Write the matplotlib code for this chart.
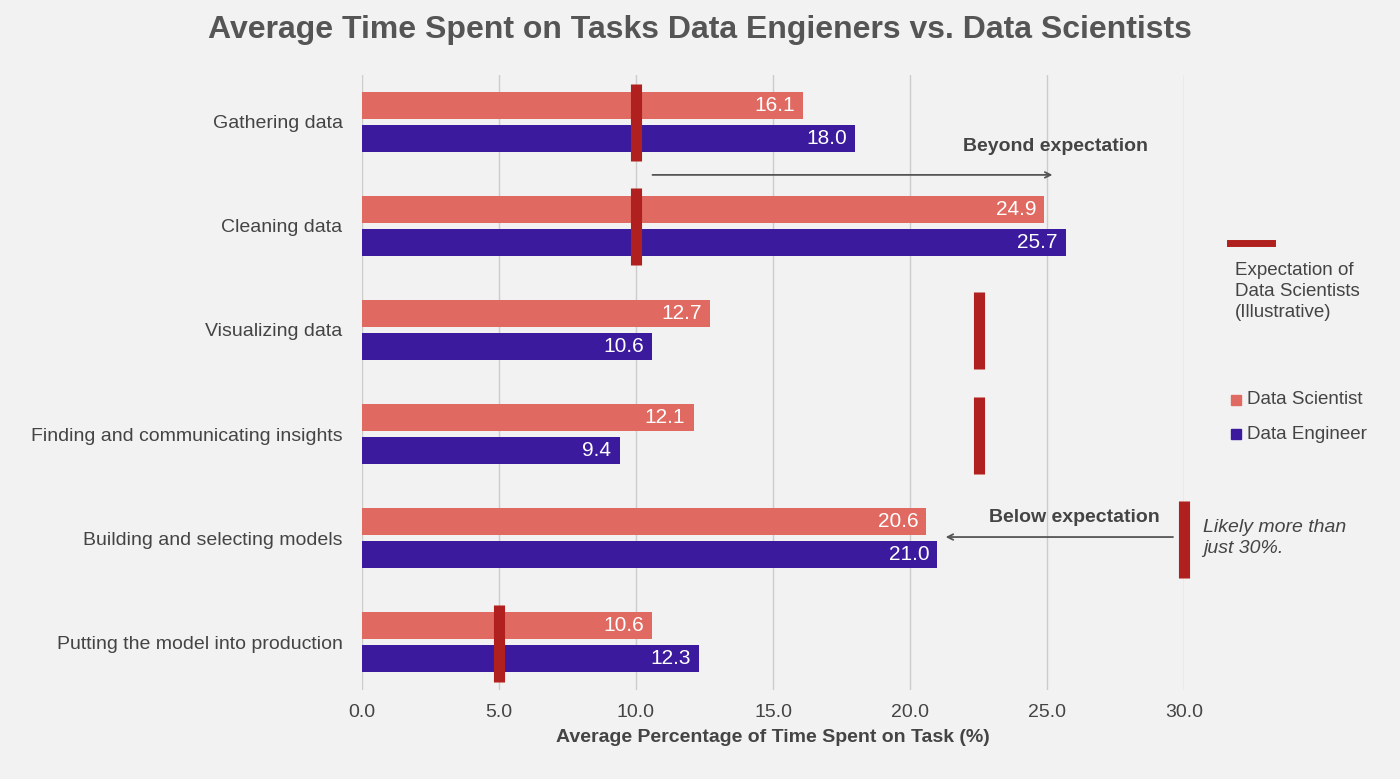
import matplotlib
matplotlib.use("Agg")
import matplotlib.pyplot as plt

tasks = ["Gathering data", "Cleaning data", "Visualizing data",
         "Finding and communicating insights", "Building and selecting models",
         "Putting the model into production"]
scientist = [16.1, 24.9, 12.7, 12.1, 20.6, 10.6]
engineer = [18.0, 25.7, 10.6, 9.4, 21.0, 12.3]
expectation = [10, 10, 22.5, 22.5, 30, 5]
xticks = [0, 5, 10, 15, 20, 25, 30]

DS = "#e06a62"; DE = "#3b1a9e"; EXP = "#b0201e"; BG = "#f2f2f2"; TXT = "#444444"
plt.rcParams['font.family'] = ['Liberation Sans', 'DejaVu Sans']

fig = plt.figure(figsize=(14, 7.79), dpi=100, facecolor=BG)
ax = fig.add_axes([362/1400, 1-690/779, (1184-362)/1400, (690-75)/779])
ax.set_facecolor(BG)
ys = list(range(len(tasks)))
h = 0.26
ax.barh([y-0.16 for y in ys], scientist, height=h, color=DS, zorder=2)
ax.barh([y+0.16 for y in ys], engineer, height=h, color=DE, zorder=2)
for y, v in zip(ys, scientist):
    ax.text(v-0.3, y-0.16, f"{v:.1f}", color="white", ha="right", va="center", fontsize=15, zorder=4)
for y, v in zip(ys, engineer):
    ax.text(v-0.3, y+0.16, f"{v:.1f}", color="white", ha="right", va="center", fontsize=15, zorder=4)
for y, e in zip(ys, expectation):
    ax.plot([e, e], [y-0.36, y+0.38], color=EXP, lw=8, solid_capstyle="butt", zorder=3, clip_on=False)

ax.set_xlim(0, 30)
ax.set_ylim(5.46, -0.45)
ax.set_xticks(xticks)
ax.set_xticklabels([f"{t:.1f}" for t in xticks], fontsize=14, color=TXT)
ax.set_yticks(ys)
ax.set_yticklabels(tasks, fontsize=14, color=TXT)
ax.tick_params(length=0, pad=14)
ax.tick_params(axis='x', pad=10)
ax.grid(axis='x', color="#cccccc", lw=1, zorder=0)
for s in ax.spines.values():
    s.set_visible(False)
ax.set_xlabel("Average Percentage of Time Spent on Task (%)", fontsize=14, fontweight="bold", color=TXT, labelpad=6)

ax.annotate("", xy=(25.3, 0.51), xytext=(10.5, 0.51),
            arrowprops=dict(arrowstyle="->", color="#555555", lw=1.3))
ax.text(25.3, 0.24, "Beyond expectation", ha="center", va="center", fontsize=14, fontweight="bold", color=TXT)
ax.annotate("", xy=(21.2, 3.99), xytext=(29.7, 3.99),
            arrowprops=dict(arrowstyle="->", color="#555555", lw=1.3))
ax.text(26.0, 3.8, "Below expectation", ha="center", va="center", fontsize=14, fontweight="bold", color=TXT)
ax.text(30.7, 4.0, "Likely more than\njust 30%.", ha="left", va="center", fontsize=14,
        style="italic", color=TXT, clip_on=False, linespacing=1.3)

fig.text(0.5, 1-30/779, "Average Time Spent on Tasks Data Engieners vs. Data Scientists",
         ha="center", va="center", fontsize=23, fontweight="bold", color="#555555")

fig.add_artist(plt.Line2D([1230/1400, 1272/1400], [1-243/779]*2, color=EXP, lw=5))
fig.text(1235/1400, 1-262/779, "Expectation of\nData Scientists\n(Illustrative)", ha="left", va="top",
         fontsize=13.5, color=TXT, linespacing=1.3)
for yy, lab, c in [(400, "Data Scientist", DS), (434, "Data Engineer", DE)]:
    fig.add_artist(plt.Rectangle((1231/1400, 1-(yy+5)/779), 10/1400, 10/779, color=c))
    fig.text(1247/1400, 1-yy/779, lab, ha="left", va="center", fontsize=13.5, color=TXT)

fig.savefig("out.png", dpi=100, facecolor=BG)
